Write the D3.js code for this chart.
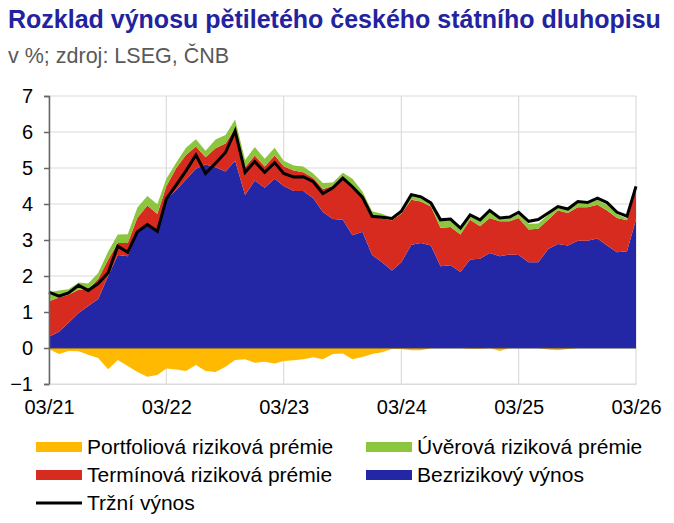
<!DOCTYPE html>
<html>
<head>
<meta charset="utf-8">
<script src="https://cdn.jsdelivr.net/npm/d3@7"></script>
<style>
  body { margin: 0; background: #fff; }
  svg { font-family: "Liberation Sans", Arial, sans-serif; }
</style>
</head>
<body>
<svg id="chart"></svg>
<script>
// Monthly data, 03/2021 - 03/2026 (v %)
const months = d3.range(61).map(i => new Date(2021, 2 + i, 1));

const riskFree = [0.31, 0.45, 0.70, 0.97, 1.17, 1.36, 2.00, 2.58, 2.55, 3.20, 3.44, 3.25,
  4.12, 4.39, 4.68, 4.98, 5.10, 5.02, 4.90, 5.20, 4.25, 4.65, 4.45, 4.70,
  4.50, 4.36, 4.36, 4.16, 3.78, 3.58, 3.56, 3.13, 3.23, 2.58, 2.38, 2.15,
  2.38, 2.87, 2.92, 2.85, 2.27, 2.30, 2.11, 2.46, 2.48, 2.64, 2.55, 2.60,
  2.58, 2.38, 2.38, 2.75, 2.89, 2.85, 2.98, 2.98, 3.04, 2.85, 2.66, 2.69, 3.57];

const termPremium = [0.99, 0.95, 0.78, 0.65, 0.46, 0.56, 0.45, 0.34, 0.37, 0.42, 0.52, 0.47,
  0.37, 0.61, 0.68, 0.62, 0.20, 0.53, 0.78, 0.90, 0.77, 0.70, 0.59, 0.65,
  0.55, 0.57, 0.52, 0.56, 0.64, 0.92, 1.22, 1.37, 0.95, 1.06, 1.22, 1.40,
  1.35, 1.25, 1.15, 1.08, 1.06, 1.06, 1.04, 1.10, 0.90, 0.97, 0.97, 0.92,
  1.03, 0.91, 0.93, 0.81, 0.93, 0.90, 0.93, 0.93, 0.94, 0.97, 0.95, 0.86, 0.83];

const creditPremium = [0.25, 0.20, 0.15, 0.20, 0.16, 0.16, 0.23, 0.23, 0.24, 0.28, 0.26, 0.27,
  0.21, 0.15, 0.20, 0.20, 0.18, 0.24, 0.24, 0.25, 0.20, 0.23, 0.22, 0.21,
  0.15, 0.14, 0.16, 0.13, 0.16, 0.10, 0.09, 0.20, 0.17, 0.16, 0.13, 0.07,
  0.10, 0.18, 0.16, 0.11, 0.19, 0.19, 0.20, 0.12, 0.14, 0.16, 0.10, 0.08,
  0.11, 0.16, 0.15, 0.14, 0.10, 0.08, 0.12, 0.11, 0.14, 0.15, 0.11, 0.05, 0.06];

const portfolioPremium = [-0.03, -0.17, -0.08, -0.09, -0.19, -0.28, -0.59, -0.33, -0.50, -0.67, -0.80, -0.75,
  -0.57, -0.60, -0.64, -0.47, -0.64, -0.67, -0.52, -0.33, -0.31, -0.41, -0.38, -0.43,
  -0.36, -0.34, -0.31, -0.26, -0.31, -0.17, -0.15, -0.31, -0.25, -0.17, -0.12, -0.03,
  -0.03, -0.06, -0.06, -0.01, 0, 0, 0, -0.02, -0.02, 0, -0.08, 0,
  0, 0, 0, -0.04, -0.06, -0.03, 0, 0, 0, 0, 0, 0, 0];

const marketYield = [1.55, 1.44, 1.53, 1.74, 1.60, 1.79, 2.09, 2.83, 2.66, 3.23, 3.43, 3.24,
  4.14, 4.53, 4.92, 5.36, 4.85, 5.13, 5.43, 6.03, 4.88, 5.18, 4.88, 5.15,
  4.85, 4.75, 4.76, 4.62, 4.29, 4.45, 4.72, 4.48, 4.19, 3.66, 3.63, 3.60,
  3.80, 4.26, 4.20, 4.03, 3.56, 3.58, 3.33, 3.70, 3.56, 3.82, 3.61, 3.64,
  3.77, 3.52, 3.57, 3.75, 3.93, 3.86, 4.07, 4.04, 4.16, 4.04, 3.77, 3.66, 4.49];

const yTicks = [-1, 0, 1, 2, 3, 4, 5, 6, 7];
const xTicks = [0, 12, 24, 36, 48, 60].map(i => months[i]);

const seriesKeys = ["riskFree", "term", "credit", "portfolio"];
const seriesColors = {
  riskFree: "#2327a6",
  term: "#d72b1f",
  credit: "#8cc63e",
  portfolio: "#ffb900"
};

const legendItems = [
  { label: "Portfoliová riziková prémie", color: seriesColors.portfolio, col: 0, row: 0 },
  { label: "Úvěrová riziková prémie", color: seriesColors.credit, col: 1, row: 0 },
  { label: "Termínová riziková prémie", color: seriesColors.term, col: 0, row: 1 },
  { label: "Bezrizikový výnos", color: seriesColors.riskFree, col: 1, row: 1 },
  { label: "Tržní výnos", color: "#000", col: 0, row: 2, line: true }
];

const width = 674, height = 523;
const margin = { top: 96, right: 38, bottom: 139, left: 49 };

const svg = d3.select("#chart").attr("width", width).attr("height", height);

// Title
svg.append("text")
  .attr("x", 8).attr("y", 28)
  .attr("font-size", "25px").attr("font-weight", "bold")
  .attr("fill", "#2323a0")
  .text("Rozklad výnosu pětiletého českého státního dluhopisu");

svg.append("text")
  .attr("x", 8).attr("y", 63)
  .attr("font-size", "21.5px").attr("fill", "#595959")
  .text("v %; zdroj: LSEG, ČNB");

// Scales
const x = d3.scaleTime()
  .domain([months[0], months[months.length - 1]])
  .range([margin.left, width - margin.right]);

const y = d3.scaleLinear()
  .domain([-1, 7])
  .range([height - margin.bottom, margin.top]);

// Grid
svg.append("g")
  .selectAll("line")
  .data(yTicks)
  .enter().append("line")
  .attr("x1", margin.left).attr("x2", width - margin.right)
  .attr("y1", d => y(d)).attr("y2", d => y(d))
  .attr("stroke", "#dcdcdc").attr("stroke-width", 1.2);

svg.append("g")
  .selectAll("line")
  .data(xTicks)
  .enter().append("line")
  .attr("x1", d => x(d)).attr("x2", d => x(d))
  .attr("y1", y(7)).attr("y2", y(-1))
  .attr("stroke", "#dcdcdc").attr("stroke-width", 1.2);

// Stacked areas
const table = months.map((m, i) => ({
  date: m,
  riskFree: riskFree[i],
  term: termPremium[i],
  credit: creditPremium[i],
  portfolio: portfolioPremium[i]
}));

const stacked = d3.stack()
  .keys(seriesKeys)
  .offset(d3.stackOffsetDiverging)(table);

const area = d3.area()
  .x(d => x(d.data.date))
  .y0(d => y(d[0]))
  .y1(d => y(d[1]));

svg.append("g")
  .selectAll("path")
  .data(stacked)
  .enter().append("path")
  .attr("fill", d => seriesColors[d.key])
  .attr("d", area);

// Zero line
svg.append("line")
  .attr("x1", margin.left).attr("x2", width - margin.right)
  .attr("y1", y(0)).attr("y2", y(0))
  .attr("stroke", "#3a3a5a").attr("stroke-width", 1);

// Market yield line
const line = d3.line()
  .x((d, i) => x(months[i]))
  .y(d => y(d));

svg.append("path")
  .datum(marketYield)
  .attr("fill", "none")
  .attr("stroke", "#000")
  .attr("stroke-width", 3)
  .attr("stroke-linejoin", "miter")
  .attr("d", line);

// Y axis
const yAxis = svg.append("g")
  .attr("transform", `translate(${margin.left},0)`)
  .call(d3.axisLeft(y).tickValues(yTicks).tickSize(5).tickPadding(11).tickFormat(d3.format("d")));
yAxis.select(".domain").attr("stroke", "#666").attr("stroke-width", 1.5);
yAxis.selectAll(".tick line").attr("stroke", "#666").attr("stroke-width", 1.5);
yAxis.selectAll("text").attr("font-size", "20px").attr("fill", "#000")
  .attr("font-family", "Liberation Sans, Arial, sans-serif");

// X axis
const xAxis = svg.append("g")
  .attr("transform", `translate(0,${y(-1)})`)
  .call(d3.axisBottom(x).tickValues(xTicks).tickSize(0).tickPadding(16).tickFormat(d3.timeFormat("%m/%y")));
xAxis.select(".domain").attr("stroke", "#dcdcdc").attr("stroke-width", 1.2);
xAxis.selectAll("text").attr("font-size", "20px").attr("fill", "#000")
  .attr("font-family", "Liberation Sans, Arial, sans-serif");

// Legend
const legend = svg.append("g");
const colX = [36, 366];
const rowY = [447, 475, 503];

legendItems.forEach(item => {
  const lx = colX[item.col], ly = rowY[item.row];
  if (item.line) {
    legend.append("line")
      .attr("x1", lx).attr("x2", lx + 46)
      .attr("y1", ly).attr("y2", ly)
      .attr("stroke", item.color).attr("stroke-width", 3);
  } else {
    legend.append("rect")
      .attr("x", lx).attr("y", ly - 5)
      .attr("width", 46).attr("height", 10)
      .attr("fill", item.color);
  }
  legend.append("text")
    .attr("x", lx + 51).attr("y", ly)
    .attr("dy", "0.35em")
    .attr("font-size", "21px").attr("fill", "#000")
    .text(item.label);
});
</script>
</body>
</html>
